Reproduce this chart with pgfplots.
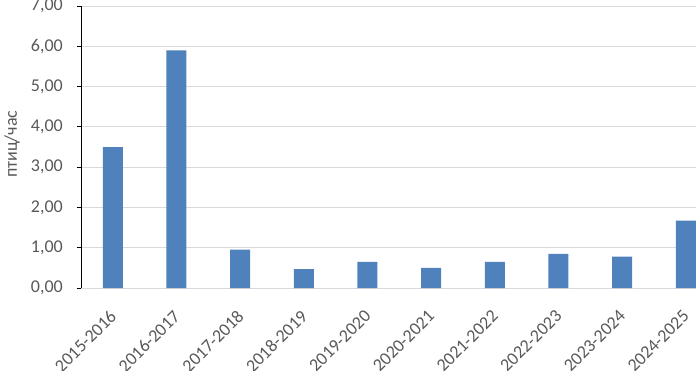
\documentclass[border=0pt]{standalone}
\usepackage{fontspec}
\setmainfont{Carlito}
\usepackage{pgfplots}
\pgfplotsset{compat=1.18}
\definecolor{barblue}{HTML}{4F81BD}
\definecolor{txtgray}{HTML}{595959}
\definecolor{gridgray}{HTML}{D9D9D9}
\begin{document}
\begin{tikzpicture}
\begin{axis}[
  at={(81pt,82pt)}, anchor=south west,
  scale only axis, width=615pt, height=282pt,
  xmin=-0.5, xmax=9.16, ymin=0, ymax=7,
  ybar, bar width=20pt, bar shift=0pt,
  axis x line*=bottom, axis y line*=left,
  x axis line style={gridgray, line width=0.8pt},
  y axis line style={black, line width=0.8pt},
  ytick={0,1,...,7},
  xtick={0,1,...,9},
  xticklabels={2015-2016,2016-2017,2017-2018,2018-2019,2019-2020,2020-2021,2021-2022,2022-2023,2023-2024,2024-2025},
  xtick style={draw=none},
  ytick style={black, line width=0.8pt},
  tick align=outside, major tick length=4pt,
  ymajorgrids, grid style={gridgray, line width=0.8pt},
  /pgf/number format/.cd, assume math mode=true, fixed, fixed zerofill, precision=2, use comma,
  /pgfplots/.cd,
  ticklabel style={font=\fontsize{18}{21}\selectfont, text=txtgray},
  xticklabel style={xshift=-4pt, yshift=-14pt, rotate=45, anchor=north east, inner sep=2pt},
  yticklabel style={anchor=east, inner sep=2pt, xshift=-12pt},
  ylabel={птиц/час},
  ylabel style={font=\fontsize{18}{21}\selectfont, text=txtgray, at={(axis description cs:-0.112,0.51)}, anchor=center},
]
\addplot[fill=barblue, draw=none] coordinates {
(0,3.50) (1,5.90) (2,0.95) (3,0.47) (4,0.65) (5,0.50) (6,0.65) (7,0.85) (8,0.78) (9,1.67)
};
\end{axis}
\pgfresetboundingbox
\path[use as bounding box] (0,0) rectangle (696pt,370pt);
\end{tikzpicture}
\end{document}
